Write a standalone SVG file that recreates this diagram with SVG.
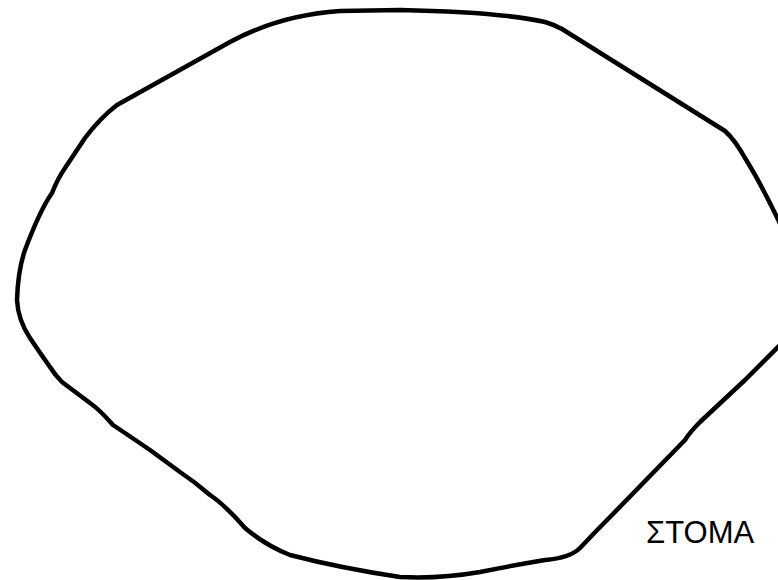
<svg xmlns="http://www.w3.org/2000/svg" width="778" height="580" viewBox="0 0 778 580">
<style>
.outline{fill:none;stroke:#000;stroke-width:4.5;stroke-linejoin:round;stroke-linecap:round}
.lbl{font-family:"Liberation Sans",Arial,sans-serif;font-size:31px;fill:#000}
</style>
<rect width="778" height="580" fill="#fff"/>
<g id="stoma">
<path class="outline" d="M117,105 L230,42 Q280,15 340,11 L400,10 Q500,12 545,22 Q555,25 562,29 L725,131 Q735,140 745,158 Q765,190 790,245 L800,300 L790,335 Q760,365 745,380 L700,422 Q690,432 685,440 L612,515 Q595,532 580,548 Q570,558 545,560 Q515,565 480,572 Q440,579 400,577 Q340,568 290,555 Q265,545 245,528 Q225,505 210,495 Q195,482 180,472 L150,450 Q128,435 113,425 Q100,410 90,403 L62,382 Q55,375 50,367 Q38,350 30,338 Q18,320 17,300 Q18,270 25,250 Q40,210 52,193 Q58,178 65,168 L85,138 Q100,118 117,105 Z"/>
<text class="lbl" x="646" y="543">ΣΤΟΜΑ</text>
</g>
</svg>
